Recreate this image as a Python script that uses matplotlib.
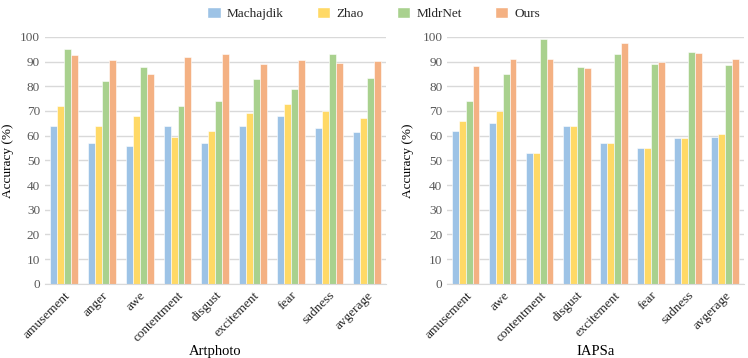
import numpy as np
import matplotlib.pyplot as plt
from matplotlib.patches import Patch

methods = ['Machajdik', 'Zhao', 'MldrNet', 'Ours']
colors = ['#9DC3E6', '#FFD966', '#A9D18E', '#F4B183']

art_labels = ['amusement', 'anger', 'awe', 'contentment', 'disgust',
              'excitement', 'fear', 'sadness', 'avgerage']
art_machajdik = [64, 57, 56, 64, 57, 64, 68, 63, 61.5]
art_zhao = [72, 64, 68, 59.5, 62, 69, 73, 70, 67.2]
art_mldrnet = [95, 82, 88, 72, 74, 83, 79, 93, 83.3]
art_ours = [92.5, 90.7, 85, 92, 93.2, 89, 90.7, 89.5, 90.2]

iaps_labels = ['amusement', 'awe', 'contentment', 'disgust',
               'excitement', 'fear', 'sadness', 'avgerage']
iaps_machajdik = [62, 65, 53, 64, 57, 55, 59, 59.3]
iaps_zhao = [66, 70, 53, 64, 57, 55, 59, 60.6]
iaps_mldrnet = [74, 85, 99, 88, 93, 89, 94, 88.8]
iaps_ours = [88.2, 91, 91, 87.2, 97.5, 89.7, 93.5, 91]

plt.rcParams['font.family'] = ['Liberation Serif', 'DejaVu Serif']
txt = '#595959'


def draw(ax, labels, series, title, ylab_x):
    x = np.arange(len(labels))
    w = 0.184
    for i, (vals, c) in enumerate(zip(series, colors)):
        ax.bar(x + (i - 1.5) * w, vals, w, color=c, edgecolor='white',
               linewidth=0.4, zorder=2)
    ax.set_ylim(0, 100)
    ax.set_xlim(-0.5, len(labels) - 0.5)
    ax.set_yticks(range(0, 101, 10))
    ax.yaxis.grid(True, color='#D9D9D9', linewidth=1, zorder=0)
    ax.set_axisbelow(True)
    for s in ['top', 'right', 'left']:
        ax.spines[s].set_visible(False)
    ax.spines['bottom'].set_color('#D9D9D9')
    ax.tick_params(length=0, colors=txt, labelsize=9.5)
    ax.tick_params(axis='x', pad=4)
    ax.set_xticks(x)
    ax.set_xticklabels(labels, rotation=45, ha='right', rotation_mode='anchor',
                       color='#262626')
    ax.set_ylabel('Accuracy (%)', fontsize=9.5, color='black')
    ax.yaxis.set_label_coords(ylab_x, 0.5)
    ax.set_xlabel(title, fontsize=10.5, color='black')
    ax.xaxis.set_label_coords(0.5, -0.247)


fig = plt.figure(figsize=(7.48, 3.58), dpi=100)
ax1 = fig.add_axes([0.060, 0.207, 0.456, 0.69])
ax2 = fig.add_axes([0.598, 0.207, 0.396, 0.69])
draw(ax1, art_labels, [art_machajdik, art_zhao, art_mldrnet, art_ours],
     'Artphoto', -0.09)
draw(ax2, iaps_labels, [iaps_machajdik, iaps_zhao, iaps_mldrnet, iaps_ours],
     'IAPSa', -0.112)

handles = [Patch(facecolor=c, edgecolor='white') for c in colors]
fig.legend(handles, methods, loc='center', bbox_to_anchor=(0.5, 0.963), ncol=4,
           frameon=False, fontsize=9.5, columnspacing=2.5, handlelength=1.0,
           handleheight=1.0, handletextpad=0.5, labelcolor='#262626')

fig.savefig('out.png', dpi=100)
